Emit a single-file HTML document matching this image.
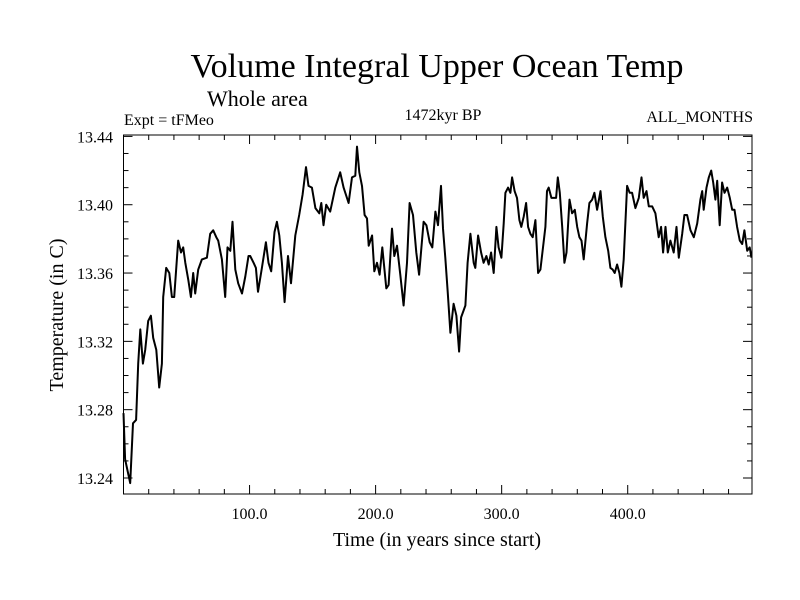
<!DOCTYPE html>
<html>
<head>
<meta charset="utf-8">
<style>
  html, body { margin:0; padding:0; background:#fff; }
  svg { display:block; }
  text { font-family: "Liberation Serif", serif; fill:#000; }
</style>
</head>
<body>
<svg id="chart" width="800" height="600" viewBox="0 0 800 600">
  <text x="437" y="77" font-size="34" text-anchor="middle">Volume Integral Upper Ocean Temp</text>
  <text x="207" y="106" font-size="22">Whole area</text>
  <text x="124" y="125" font-size="16">Expt = tFMeo</text>
  <text x="443" y="120" font-size="16" text-anchor="middle">1472kyr BP</text>
  <text x="753" y="122" font-size="16" text-anchor="end">ALL_MONTHS</text>
  <text x="437" y="546" font-size="20" text-anchor="middle">Time (in years since start)</text>
  <text transform="translate(63,315) rotate(-90)" font-size="20" text-anchor="middle">Temperature (in C)</text>
  <g id="axes"></g>
  <path id="series" fill="none" stroke="#000" stroke-width="2" stroke-linejoin="round"></path>
</svg>
<script>
const xTickValues = [100, 200, 300, 400];
const xTickLabels = ["100.0", "200.0", "300.0", "400.0"];
const yTickValues = [13.24, 13.28, 13.32, 13.36, 13.40, 13.44];
const yTickLabels = ["13.24", "13.28", "13.32", "13.36", "13.40", "13.44"];
const years = [0,1.3,3,5.3,7.5,10,11.7,13.3,15.4,17.2,19.6,21.7,23.6,26,28.3,30.5,31.5,33.9,36.3,38.4,40.2,43.4,45.6,47.4,49,51.4,53.5,55.3,56.9,59.3,62.2,66.2,68.8,71.2,73.6,75.1,78.1,80.7,82.5,84.7,86.5,88.7,91,94,96.6,99.2,100.5,103.2,105,106.7,109.8,113,115,117.2,119.8,121.7,123.6,125.7,127.8,130.5,132.9,136.3,139.4,142.1,144.8,146.8,149.5,152.2,155.3,156.9,158.7,160.8,164,168,171.9,174.6,178.6,181.3,183.9,185.2,187.1,189.2,191.3,193.2,194.5,197.2,199,201.1,203.2,205.3,208.5,210.3,213,214.8,217,219.6,222.2,224.9,227,229.7,232.3,234.5,238.1,240.3,242.9,245,247.4,249.5,251.9,253.5,255.3,257.2,259.3,261.9,264.1,266.2,267.8,271.2,273,275.2,277.8,279.1,281.3,283.7,285.7,287.9,289.7,291.6,293.7,295.8,297.6,299.8,301.6,303,305.1,306.9,308.3,310.3,312.2,314.1,315.6,317.5,319.4,321,322.8,324.6,326.8,328.9,330.7,333.4,334.7,336,337.3,339.5,341.3,343.2,344.5,346.1,348,349.8,351.4,353.8,355.9,358,359.9,361.7,363.3,365.1,367.8,369.6,371.8,373.6,375.7,378.4,380.2,382.3,384.5,386.3,388.1,389.7,391.6,393.4,395,396.8,399.5,401.6,403.5,406.1,408.8,410.9,412.7,414.9,416.7,419.4,422,424.6,426.5,428.1,430,431.8,433.9,436.5,438.7,440.5,443.2,445,447.1,449.8,452.4,455.1,457.7,459.1,460.3,462.5,464.3,466.2,467.8,469.6,471,473,474.9,476.8,478.9,481,482.9,484.7,486.8,488.9,490.8,492.6,494.8,496.8,498.2];
const temps = [13.278,13.251,13.245,13.237,13.272,13.274,13.307,13.327,13.307,13.315,13.332,13.335,13.322,13.315,13.293,13.307,13.346,13.363,13.360,13.346,13.346,13.379,13.372,13.375,13.366,13.356,13.346,13.360,13.348,13.362,13.368,13.369,13.383,13.385,13.381,13.379,13.368,13.346,13.375,13.373,13.390,13.362,13.354,13.348,13.358,13.370,13.370,13.366,13.363,13.349,13.363,13.378,13.366,13.361,13.384,13.390,13.382,13.366,13.343,13.370,13.354,13.382,13.394,13.406,13.422,13.411,13.410,13.398,13.395,13.401,13.388,13.400,13.396,13.410,13.419,13.410,13.401,13.416,13.417,13.434,13.419,13.411,13.394,13.392,13.376,13.382,13.361,13.366,13.359,13.375,13.351,13.353,13.386,13.370,13.376,13.359,13.341,13.366,13.401,13.394,13.372,13.359,13.390,13.388,13.378,13.375,13.396,13.388,13.411,13.386,13.369,13.349,13.325,13.342,13.335,13.314,13.334,13.341,13.366,13.383,13.366,13.363,13.382,13.372,13.366,13.370,13.365,13.372,13.360,13.387,13.375,13.369,13.389,13.407,13.410,13.407,13.416,13.408,13.404,13.391,13.387,13.393,13.401,13.387,13.383,13.381,13.391,13.360,13.362,13.379,13.387,13.408,13.410,13.404,13.404,13.404,13.416,13.407,13.387,13.366,13.372,13.403,13.395,13.397,13.387,13.381,13.379,13.368,13.389,13.401,13.403,13.407,13.397,13.408,13.393,13.381,13.373,13.363,13.362,13.360,13.365,13.360,13.352,13.368,13.411,13.407,13.407,13.398,13.404,13.416,13.404,13.408,13.399,13.399,13.395,13.381,13.387,13.372,13.387,13.372,13.379,13.372,13.387,13.369,13.383,13.394,13.394,13.385,13.381,13.389,13.403,13.408,13.397,13.410,13.416,13.420,13.413,13.403,13.414,13.388,13.413,13.407,13.410,13.404,13.397,13.397,13.387,13.379,13.377,13.385,13.373,13.375,13.369];

const L = 123.5, R = 752, T = 135, B = 494;
const xMin = 0, xMax = 498.6;
const yAt13_24 = 478, pxPerUnit = 1708;
function xs(v){ return L + (v - xMin) / (xMax - xMin) * (R - L); }
function ys(v){ return yAt13_24 - (v - 13.24) * pxPerUnit; }

const NS = "http://www.w3.org/2000/svg";
const axes = document.getElementById("axes");
function line(x1,y1,x2,y2,name){
  const l = document.createElementNS(NS,"line");
  l.setAttribute("x1",x1); l.setAttribute("y1",y1);
  l.setAttribute("x2",x2); l.setAttribute("y2",y2);
  l.setAttribute("stroke","#000"); l.setAttribute("stroke-width","1");
  
  
  axes.appendChild(l);
}
const frame = document.createElementNS(NS,"rect");
frame.setAttribute("x",L); frame.setAttribute("y",T);
frame.setAttribute("width",R-L); frame.setAttribute("height",B-T);
frame.setAttribute("fill","none"); frame.setAttribute("stroke","#000");


axes.appendChild(frame);

// x minor ticks every 20 years
for (let v = 20; v < xMax; v += 20) {
  const x = xs(v);
  const major = v % 100 === 0;
  const len = major ? 9 : 5;
  line(x,B,x,B-len,'x-tick');
  line(x,T,x,T+len,'x-tick-top');
}
xTickValues.forEach((v,i)=>{
  const t = document.createElementNS(NS,"text");
  t.setAttribute("x", xs(v)); t.setAttribute("y", 519);
  t.setAttribute("font-size","16"); t.setAttribute("text-anchor","middle");
  t.textContent = xTickLabels[i];
  
  
  axes.appendChild(t);
});
// y minor ticks every 0.01
for (let k = 0; k <= 21; k++) {
  const v = 13.24 + k*0.01 - 0.01;
  const y = ys(v);
  if (y < T || y > B) continue;
  const major = ((k-1) % 4 === 0);
  const len = major ? 9 : 5;
  line(L,y,L+len,y,'y-tick');
  line(R,y,R-len,y,'y-tick-right');
}
yTickValues.forEach((v,i)=>{
  const t = document.createElementNS(NS,"text");
  t.setAttribute("x", 113); t.setAttribute("y", ys(v)+6);
  t.setAttribute("font-size","16"); t.setAttribute("text-anchor","end");
  t.textContent = yTickLabels[i];
  
  
  axes.appendChild(t);
});

let d = "";
years.forEach((yr,i)=>{
  d += (i===0?"M":"L") + xs(yr).toFixed(1) + "," + ys(temps[i]).toFixed(1);
});
document.getElementById("series").setAttribute("d", d);
</script>
</body>
</html>
